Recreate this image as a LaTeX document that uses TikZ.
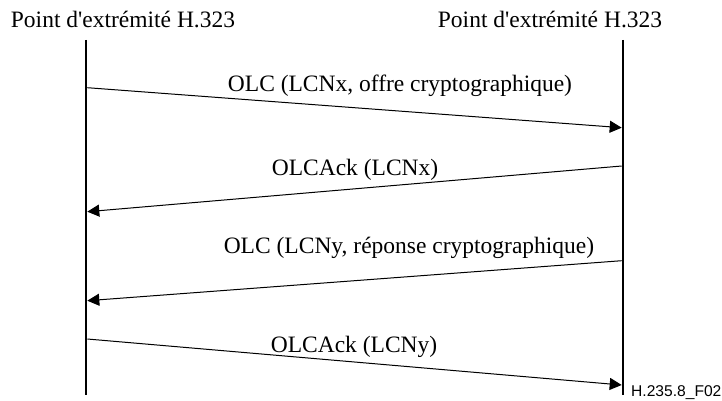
\documentclass[tikz,border=0pt]{standalone}
\usepackage{fontspec}
\setmainfont{Liberation Serif}
\newfontfamily\figsans{Liberation Sans}
\usetikzlibrary{arrows.meta}
\tikzset{
  lifeline/.style={line width=2.6pt},
  msg/.style={line width=1pt,-{Triangle[length=12pt,width=12pt]}},
  msglabel/.style={font=\fontsize{23.5}{27}\selectfont,inner sep=0pt,anchor=base},
}
\begin{document}
\begin{tikzpicture}[x=1pt,y=-1pt]
    \useasboundingbox (0,0) rectangle (722,401);
    % entites
    \node[msglabel] (hA) at (123,28) {Point d\textquotesingle extrémité H.323};
    \node[msglabel] (hB) at (550,28) {Point d\textquotesingle extrémité H.323};
    \coordinate (topA) at (86,40);
    \coordinate (botA) at (86,395);
    \coordinate (topB) at (623,40);
    \coordinate (botB) at (623,395);
    \draw[lifeline] (topA) -- (botA);
    \draw[lifeline] (topB) -- (botB);
    % messages
    \coordinate (a1) at (87.3,87.7);  \coordinate (b1) at (621.7,127.7);
    \coordinate (b2) at (621.7,166);  \coordinate (a2) at (87.3,211.7);
    \coordinate (b3) at (621.7,260.7);\coordinate (a3) at (87.3,300.7);
    \coordinate (a4) at (87.3,339);   \coordinate (b4) at (621.7,385);
    \draw[msg] (a1) -- (b1);
    \draw[msg] (b2) -- (a2);
    \draw[msg] (b3) -- (a3);
    \draw[msg] (a4) -- (b4);
    \node[msglabel] (m1) at (400,92) {OLC (LCNx, offre cryptographique)};
    \node[msglabel] (m2) at (355,175) {OLCAck (LCNx)};
    \node[msglabel] (m3) at (409,253) {OLC (LCNy, réponse cryptographique)};
    \node[msglabel] (m4) at (354,352) {OLCAck (LCNy)};
    \node[font=\figsans\fontsize{15.6}{18}\selectfont,inner sep=0pt,anchor=base west] (ref) at (631,396) {H.235.8\_F02};
\end{tikzpicture}
\end{document}
